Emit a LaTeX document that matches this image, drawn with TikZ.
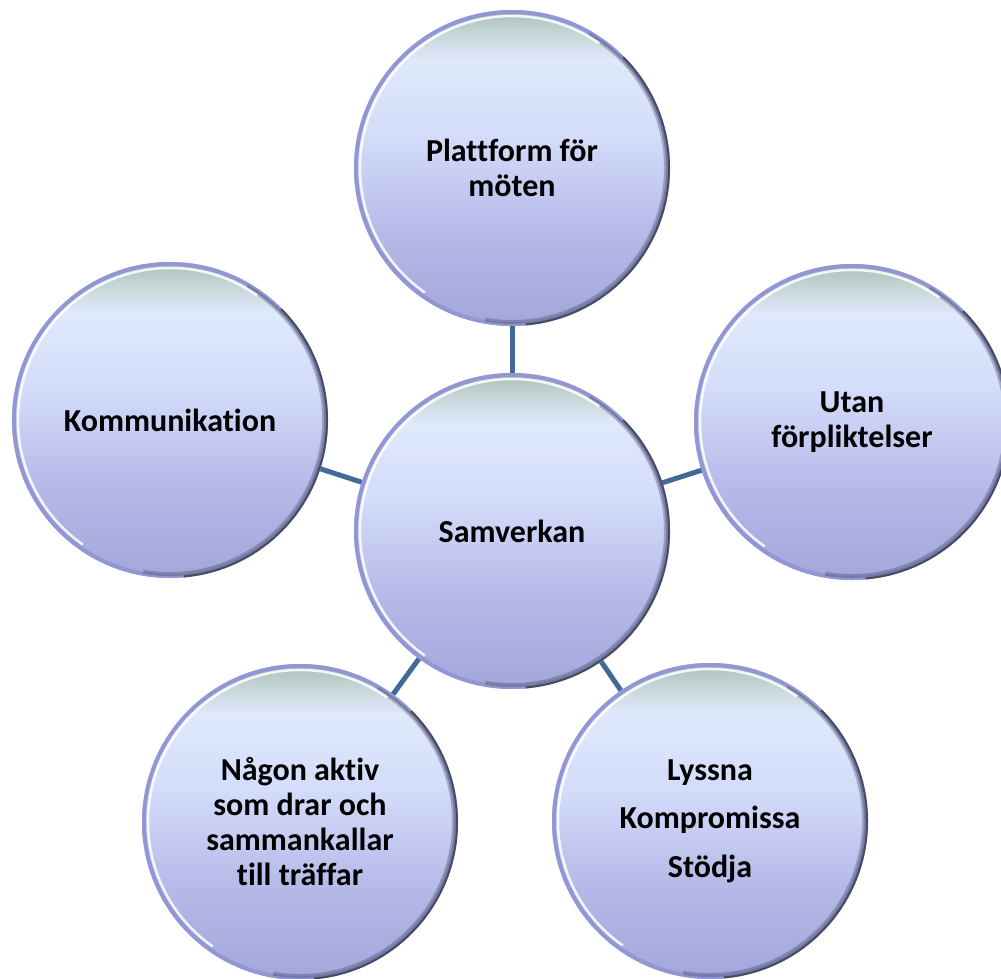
\documentclass[tikz,border=0pt]{standalone}
\usepackage{fontspec}
\setmainfont{Carlito}[Ligatures=NoCommon]
\usetikzlibrary{calc}
\definecolor{ringc}{HTML}{9296D4}
\definecolor{rimdark}{HTML}{343944}
\definecolor{connc}{HTML}{41699A}
\definecolor{sTop}{HTML}{A9BFB6}
\definecolor{sTop2}{HTML}{C5D5D6}
\definecolor{sHi}{HTML}{DFE9FB}
\definecolor{sMid}{HTML}{D3DCFA}
\definecolor{sLow}{HTML}{B6BAE8}
\definecolor{sBot}{HTML}{A2A6DA}
\pgfdeclareverticalshading{ballshade}{100bp}{color(0bp)=(sBot); color(25bp)=(sBot); color(40bp)=(sLow); color(55bp)=(sMid); color(67bp)=(sHi); color(71.5bp)=(sTop2); color(75bp)=(sTop); color(100bp)=(sTop)}
\tikzset{
  ball/.style={circle, minimum size=316pt, inner sep=0pt, shading=ballshade,
    align=center, font=\fontsize{32}{35}\selectfont\bfseries},
  conn/.style={draw=connc, line width=5pt},
  ring/.style={draw=ringc, line width=4pt},
  rimA/.style={draw=rimdark, line width=4pt, opacity=0.3},
  rimB/.style={draw=rimdark, line width=2pt, opacity=0.8},
  hilite/.style={draw=white, line width=2.5pt, opacity=0.85}
}
\newcommand{\ballrim}[1]{%
  \draw[ring] (#1.center) circle[radius=156pt];
  \draw[rimA] ($(#1.center)+(-100:154pt)$) arc[start angle=-100, end angle=60, radius=154pt];
  \draw[rimB] ($(#1.center)+(-85:157pt)$) arc[start angle=-85, end angle=45, radius=157pt];
  \draw[hilite] ($(#1.center)+(55:152pt)$) arc[start angle=55, end angle=235, radius=152pt];
}
\begin{document}
\begin{tikzpicture}[x=1pt,y=1pt]
\useasboundingbox (0,0) rectangle (1001,-978);
\node[ball] (c) at (512,-531) {Samverkan};
\node[ball] (t) at (512,-168) {Plattform för\\möten};
\node[ball] (l) at (170,-420) {Kommunikation};
\node[ball] (r) at (852,-422) {Utan\\förpliktelser};
\node[ball] (bl) at (300,-822) {Någon aktiv\\som drar och\\sammankallar\\till träffar};
\node[ball] (br) at (710,-821) {Lyssna\\[13.5pt]Kompromissa\\[13.5pt]Stödja};
\foreach \n in {c,t,l,r,bl,br} {\ballrim{\n}}
\draw[conn] (c) -- (t);
\draw[conn] (c) -- (l);
\draw[conn] (c) -- (r);
\draw[conn] (c) -- (bl);
\draw[conn] (c) -- (br);
\end{tikzpicture}
\end{document}
